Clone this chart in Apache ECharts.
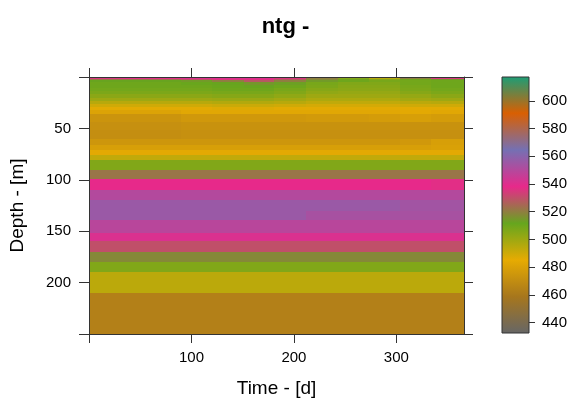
<!DOCTYPE html>
<html>
<head>
<meta charset="utf-8">
<script src="https://cdn.jsdelivr.net/npm/echarts@6/dist/echarts.min.js"></script>
<style>
  html, body { margin: 0; padding: 0; background: #ffffff; }
  #chart { width: 571px; height: 403px; }
</style>
</head>
<body>
<div id="chart"></div>
<script>
// Time bin edges [d] (monthly columns) and depth layer edges [m]
const timeEdges = [0, 31, 59, 90, 120, 151, 181, 212, 243, 273, 304, 334, 366];
const depthEdges = [0, 1, 2, 3, 5, 8, 11, 14, 17, 20, 23, 26, 29, 32, 36, 44, 52, 60, 66, 71,
                    76, 81, 90, 99, 110, 120, 130, 139, 152, 160, 170, 180, 190, 200, 210, 250];

// ntg per depth layer (rows) and month (columns)
const ntgValues = [
  [550, 550, 548, 560, 555, 545, 540, 525, 500, 484, 545, 550],
  [535, 537, 537, 540, 540, 540, 535, 520, 505, 495, 520, 535],
  [522, 522, 524, 530, 536, 537, 528, 518, 510, 505, 510, 515],
  [512, 512, 512, 514, 520, 528, 520, 514, 510, 508, 509, 510],
  [510, 510, 510, 511, 512, 515, 513, 508, 506, 506, 509, 510],
  [510, 510, 510, 510, 511, 512, 510, 507, 505, 505, 508, 510],
  [509, 509, 509, 509, 510, 510, 508, 505, 504, 504, 507, 509],
  [507, 507, 507, 507, 508, 508, 506, 503, 502, 502, 505, 507],
  [504, 504, 504, 504, 505, 505, 503, 500, 500, 500, 502, 504],
  [500, 500, 500, 500, 501, 501, 499, 497, 497, 497, 499, 500],
  [495, 495, 495, 495, 496, 496, 495, 493, 493, 493, 494, 495],
  [490, 490, 490, 490, 491, 491, 490, 489, 489, 489, 490, 490],
  [486, 486, 486, 486, 487, 487, 486, 486, 486, 486, 486, 486],
  [481, 481, 481, 483, 483, 483, 483, 483, 483, 483, 484, 483],
  [474, 474, 474, 476, 476, 476, 476, 477, 477, 478, 479, 478],
  [472, 472, 472, 473, 473, 473, 473, 473, 473, 473, 473, 473],
  [471, 471, 471, 472, 472, 472, 472, 472, 472, 472, 472, 472],
  [475, 475, 475, 475, 475, 475, 475, 475, 475, 475, 476, 479],
  [479, 479, 479, 479, 479, 479, 479, 479, 479, 479, 479, 480],
  [484, 484, 484, 484, 484, 484, 484, 484, 484, 484, 484, 484],
  [493, 493, 493, 493, 493, 493, 493, 493, 493, 493, 493, 493],
  [506, 506, 506, 506, 506, 506, 506, 506, 506, 506, 506, 506],
  [522, 522, 522, 522, 522, 522, 522, 522, 522, 522, 522, 522],
  [538, 538, 538, 538, 538, 538, 538, 538, 538, 538, 538, 537],
  [550, 550, 550, 550, 550, 550, 550, 550, 550, 550, 550, 550],
  [556, 556, 556, 556, 556, 556, 556, 556, 556, 556, 554, 554],
  [556, 556, 556, 556, 556, 556, 556, 553, 553, 553, 553, 553],
  [549, 549, 549, 549, 549, 549, 549, 549, 549, 549, 549, 549],
  [541, 541, 541, 541, 541, 541, 541, 541, 541, 541, 541, 541],
  [530, 530, 530, 530, 530, 530, 530, 530, 530, 530, 530, 530],
  [518, 518, 518, 518, 518, 518, 518, 518, 518, 518, 518, 518],
  [506, 506, 506, 506, 506, 506, 506, 506, 506, 506, 506, 506],
  [494, 494, 494, 494, 494, 494, 494, 494, 494, 494, 494, 494],
  [494, 494, 494, 494, 494, 494, 494, 494, 494, 494, 494, 494],
  [464, 464, 464, 464, 464, 464, 464, 464, 464, 464, 464, 464]
];

// Axis tick positions and labels
const timeTicks = [0, 100, 200, 300];
const timeLabels = [100, 200, 300];
const depthTicks = [0, 50, 100, 150, 200, 250];
const depthLabels = [50, 100, 150, 200];

// Colour key
const colorMin = 432.4;
const colorMax = 617.3;
const colorTicks = [440, 460, 480, 500, 520, 540, 560, 580, 600];
const paletteColors = ['#666666', '#A6761D', '#E6AB02', '#66A61E', '#E7298A', '#7570B3', '#D95F02', '#1B9E77'];

const FONT = '"Liberation Sans", Arial, Helvetica, sans-serif';
const INK = '#000000';
const FRAME = '#333333';

// One record per cell: [t0, t1, d0, d1, value]
const cells = [];
for (let i = 0; i < ntgValues.length; i++) {
  for (let j = 0; j < timeEdges.length - 1; j++) {
    cells.push([timeEdges[j], timeEdges[j + 1], depthEdges[i], depthEdges[i + 1], ntgValues[i][j]]);
  }
}

// Cells snap to whole pixels so neighbouring rectangles meet without seams
function renderCell(params, api) {
  const a = api.coord([api.value(0), api.value(2)]);
  const b = api.coord([api.value(1), api.value(3)]);
  const x0 = Math.round(Math.min(a[0], b[0])), x1 = Math.round(Math.max(a[0], b[0]));
  const y0 = Math.round(Math.min(a[1], b[1])), y1 = Math.round(Math.max(a[1], b[1]));
  return {
    type: 'rect',
    shape: { x: x0, y: y0, width: x1 - x0, height: y1 - y0 },
    style: { fill: api.visual('color') }
  };
}

function renderKey(params, api) {
  const a = api.coord([0, api.value(0)]);
  const b = api.coord([1, api.value(1)]);
  const stops = paletteColors.map((c, k) => ({ offset: k / (paletteColors.length - 1), color: c }));
  return {
    type: 'rect',
    shape: {
      x: Math.min(a[0], b[0]), y: Math.min(a[1], b[1]),
      width: Math.abs(b[0] - a[0]), height: Math.abs(b[1] - a[1])
    },
    style: {
      fill: new echarts.graphic.LinearGradient(0, 1, 0, 0, stops),
      stroke: FRAME, lineWidth: 1
    }
  };
}

const tickStyle = { show: true, inside: false, length: 9, lineStyle: { color: FRAME, width: 1 } };
const lineStyle = { show: true, onZero: false, lineStyle: { color: FRAME, width: 1 } };
const labelStyle = { color: INK, fontSize: 15, fontFamily: FONT };

const chart = echarts.init(document.getElementById('chart'), null, { renderer: 'canvas' });
chart.setOption({
  animation: false,
  backgroundColor: '#ffffff',
  title: {
    text: 'ntg -',
    left: 'center',
    top: 11,
    textStyle: { fontSize: 22, fontWeight: 'bold', color: INK, fontFamily: FONT }
  },
  grid: [
    { left: 88, top: 77, width: 376, height: 257 },
    { left: 502, top: 77, width: 27, height: 256 }
  ],
  visualMap: {
    show: false,
    type: 'continuous',
    seriesIndex: 0,
    dimension: 4,
    min: colorMin,
    max: colorMax,
    inRange: { color: paletteColors }
  },
  xAxis: [
    {
      gridIndex: 0, type: 'value', position: 'bottom', min: 0, max: 366, z: 10,
      name: 'Time - [d]', nameLocation: 'middle', nameGap: 45,
      nameTextStyle: { color: INK, fontSize: 19, fontFamily: FONT },
      axisLine: lineStyle,
      axisTick: Object.assign({}, tickStyle, { customValues: timeTicks }),
      axisLabel: Object.assign({}, labelStyle, { margin: 16, customValues: timeLabels }),
      splitLine: { show: false }
    },
    {
      gridIndex: 0, type: 'value', position: 'top', min: 0, max: 366, z: 10,
      axisLine: lineStyle,
      axisTick: Object.assign({}, tickStyle, { customValues: timeTicks }),
      axisLabel: { show: false },
      splitLine: { show: false }
    },
    {
      gridIndex: 1, type: 'value', min: 0, max: 1, show: false
    }
  ],
  yAxis: [
    {
      gridIndex: 0, type: 'value', position: 'left', inverse: true, min: 0, max: 250, z: 10,
      name: 'Depth - [m]', nameLocation: 'middle', nameGap: 62, nameRotate: 90,
      nameTextStyle: { color: INK, fontSize: 19, fontFamily: FONT },
      axisLine: lineStyle,
      axisTick: Object.assign({}, tickStyle, { length: 10, customValues: depthTicks }),
      axisLabel: Object.assign({}, labelStyle, { margin: 18, customValues: depthLabels }),
      splitLine: { show: false }
    },
    {
      gridIndex: 0, type: 'value', position: 'right', inverse: true, min: 0, max: 250, z: 10,
      axisLine: lineStyle,
      axisTick: Object.assign({}, tickStyle, { customValues: depthTicks }),
      axisLabel: { show: false },
      splitLine: { show: false }
    },
    {
      gridIndex: 1, type: 'value', position: 'right', min: colorMin, max: colorMax, z: 10,
      axisLine: { show: false, onZero: false },
      axisTick: Object.assign({}, tickStyle, { length: 6, customValues: colorTicks }),
      axisLabel: Object.assign({}, labelStyle, { margin: 13, customValues: colorTicks }),
      splitLine: { show: false }
    }
  ],
  series: [
    {
      type: 'custom',
      xAxisIndex: 0, yAxisIndex: 0,
      encode: { x: [0, 1], y: [2, 3] },
      renderItem: renderCell,
      data: cells,
      silent: true
    },
    {
      type: 'custom',
      xAxisIndex: 2, yAxisIndex: 2,
      encode: { y: [0, 1] },
      renderItem: renderKey,
      data: [[colorMin, colorMax]],
      silent: true
    }
  ]
});
</script>
</body>
</html>
